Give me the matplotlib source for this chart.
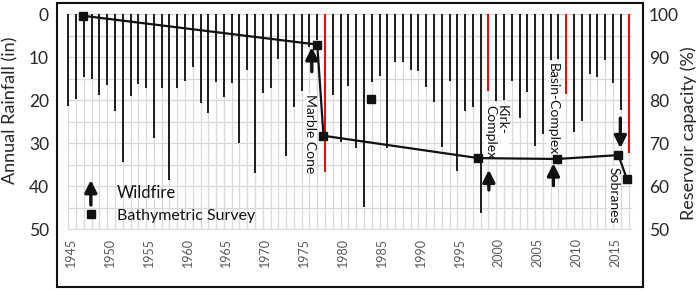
import matplotlib
matplotlib.use('Agg')
import matplotlib.pyplot as plt
from matplotlib.patches import Rectangle
from matplotlib.transforms import ScaledTranslation
import numpy as np

plt.rcParams['font.family'] = ['Lato', 'DejaVu Sans']

# annual rainfall (in), water years 1945-2017
years = np.arange(1945, 2018)
rain = [21.3, 19.6, 14.5, 15.1, 18.7, 16.4, 22.5, 34.4, 18.9, 16.2,
        17.0, 28.7, 17.0, 38.5, 17.0, 15.4, 12.3, 20.7, 22.8, 15.7,
        19.3, 16.0, 30.0, 12.8, 36.9, 18.2, 17.2, 10.4, 32.8, 21.4,
        17.8, 7.5, 6.0, 36.7, 18.7, 29.6, 16.6, 31.1, 44.7, 15.6,
        14.2, 31.1, 11.0, 11.0, 12.9, 13.1, 16.9, 20.3, 30.7, 15.5,
        36.3, 22.4, 21.6, 46.2, 17.7, 20.1, 19.9, 15.5, 24.1, 18.1,
        30.6, 27.9, 10.6, 10.4, 18.5, 27.4, 24.7, 13.8, 14.6, 10.6,
        15.9, 22.2, 32.1]
fire_years = [1978, 1999, 2009, 2017]

# bathymetric surveys (reservoir capacity %)
survey_year = [1946.9, 1977.0, 1977.8, 1997.7, 2007.85, 2015.7, 2016.8]
survey_cap = [99.7, 93.0, 71.8, 66.6, 66.4, 67.3, 61.7]
extra_year = [1983.9]
extra_cap = [80.3]

# wildfire arrows: (name, x, tail, head) in rainfall units
fires = [('Marble Cone', 1976.3, 13.3, 7.6),
         ('Kirk-\nComplex', 1999.05, 40.8, 36.1),
         ('Basin-Complex', 2007.35, 39.8, 34.6),
         ('Sobranes', 2015.95, 24.1, 31.1)]
labels = [(1976.1, 27.8, 'center'), (2000.0, 21.0, 'top'),
          (2007.3, 11.3, 'top'), (2015.05, 35.5, 'top')]

INK = '#111111'
GRID = '#d9d9d9'
RED = '#ff0000'

W, H = 699, 291
fig = plt.figure(figsize=(W / 100, H / 100), dpi=100)
ax = fig.add_axes([57.3 / W, 1 - 229.5 / H, 586 / W, 226.8 / H])
ax.set_xlim(1943.59, 2018.9)
ax.set_ylim(50, -2.74)
for s in ax.spines.values():
    s.set_visible(False)

# grid
ax.vlines(years, 0, 50, color=GRID, lw=0.9, zorder=0)
ax.hlines(np.arange(0, 51, 5), years[0], years[-1] + 0.4, color=GRID, lw=0.9, zorder=0)

colors = [RED if y in fire_years else '#222222' for y in years]
ax.bar(years, rain, width=0.26, color=colors, zorder=2)

ax.set_yticks(np.arange(0, 51, 10))
ax.tick_params(axis='y', length=0, pad=6, labelsize=12.5, labelcolor='#262626')
ax.set_xticks(np.arange(1945, 2016, 5))
ax.tick_params(axis='x', length=0, pad=6, labelsize=9, labelcolor='#595959',
               labelrotation=90)
shift = ScaledTranslation(2.5 / 100, 0, fig.dpi_scale_trans)
for lab in ax.get_xticklabels():
    lab.set_transform(lab.get_transform() + shift)

ax2 = ax.twinx()
ax2.set_ylim(50, 102.74)
for s in ax2.spines.values():
    s.set_visible(False)
ax2.set_yticks(np.arange(50, 101, 10))
ax2.tick_params(axis='y', length=0, pad=4, labelsize=12.5, labelcolor='#262626')
ax2.plot(survey_year, survey_cap, color=INK, lw=1.6, marker='s', ms=5.5, zorder=4)
ax2.plot(extra_year, extra_cap, color=INK, ls='none', marker='s', ms=5.5, zorder=4)

arrow = dict(arrowstyle='-|>,head_length=0.6,head_width=0.3', lw=2.4, color=INK,
             shrinkA=0, shrinkB=0, mutation_scale=12)
for (name, x, tail, head), (lx, ly, va) in zip(fires, labels):
    ax.annotate('', xy=(x, head), xytext=(x, tail), arrowprops=arrow, zorder=5)
    ax.text(lx, ly, name, rotation=270, ha='center', va=va, fontsize=10,
            color=INK, multialignment='left', linespacing=1.0, zorder=5,
            bbox=dict(facecolor='white', edgecolor='none', pad=0.5))

# legend
ax.annotate('', xy=(1947.9, 38.5), xytext=(1947.9, 44.3), arrowprops=arrow)
ax.plot([1947.9], [46.4], color=INK, marker='s', ms=5.5)
ax.text(1951.2, 41.4, 'Wildfire', fontsize=12, va='center', color=INK)
ax.text(1951.2, 46.9, 'Bathymetric Survey', fontsize=11.5, va='center', color=INK)

fig.text(10 / W, 1 - 110 / H, 'Annual Rainfall (in)', rotation=90, ha='center',
         va='center', fontsize=13, color='#262626')
fig.text(689 / W, 1 - 133 / H, 'Reservoir capacity (%)', rotation=90, ha='center',
         va='center', fontsize=13, color='#262626')

fig.add_artist(Rectangle((57.3 / W, 1 - 286.7 / H), 586 / W, 284 / H,
                         transform=fig.transFigure, fill=False, lw=1.5,
                         edgecolor=INK))

fig.savefig('out.png', dpi=100)
